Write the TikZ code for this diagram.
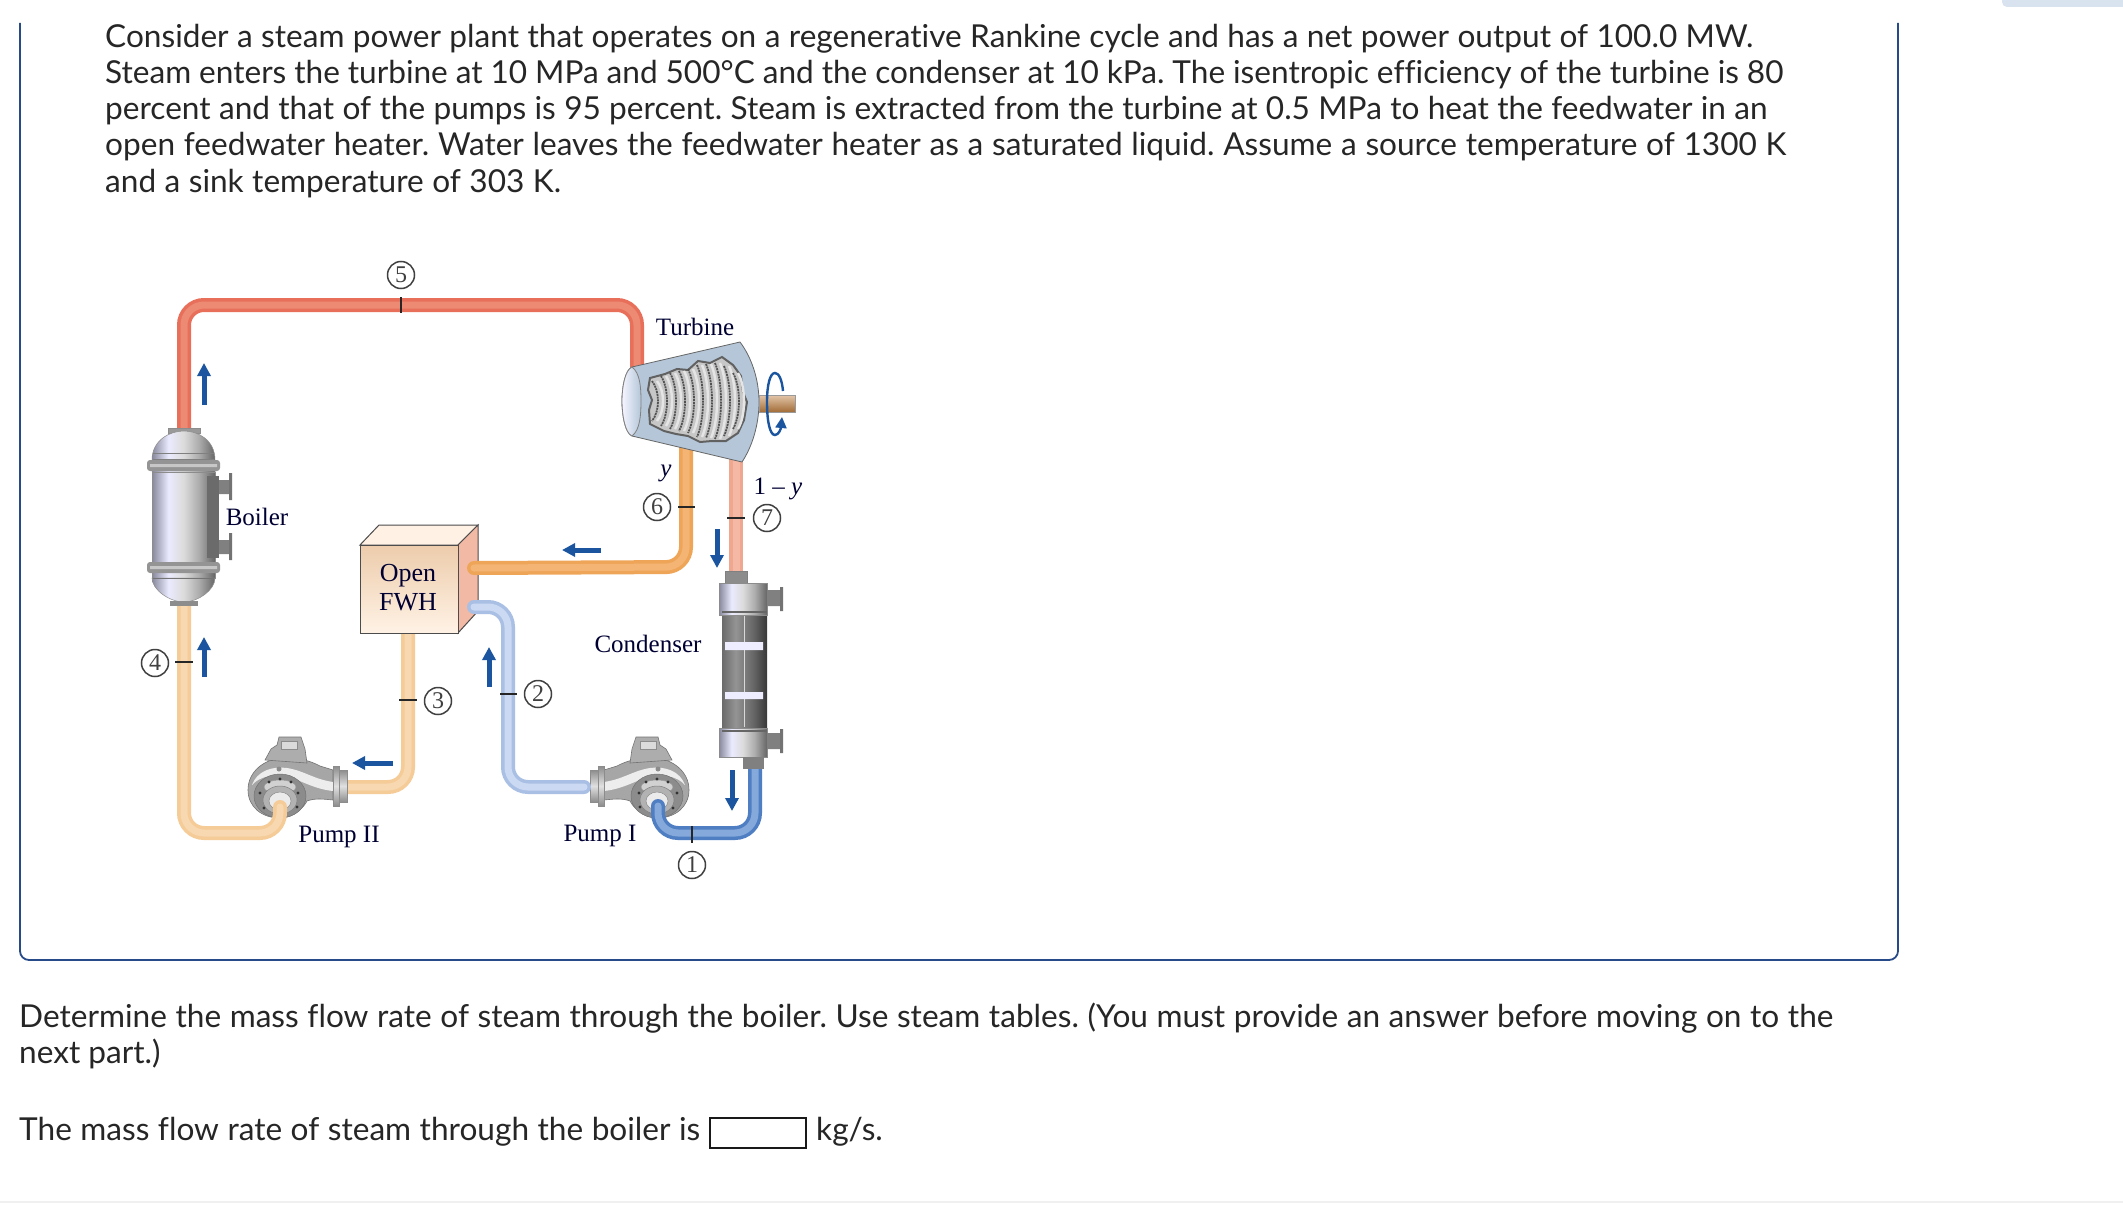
\documentclass[tikz,border=0pt]{standalone}
\usepackage{fontspec}
\setmainfont{Liberation Serif}
\newfontfamily\bodyfont[Ligatures=NoCommon]{Lato}
\usetikzlibrary{arrows.meta}
\pgfdeclarehorizontalshading{metal}{100bp}{color(0bp)=(black!42!white!92!blue); color(25bp)=(black!42!white!92!blue); color(38bp)=(white!92!blue); color(50bp)=(black!14); color(62bp)=(black!32); color(75bp)=(black!60); color(100bp)=(black!60)}
\pgfdeclarehorizontalshading{darkmetal}{100bp}{color(0bp)=(black!62); color(25bp)=(black!58); color(40bp)=(black!42); color(60bp)=(black!60); color(75bp)=(black!78); color(100bp)=(black!78)}
\definecolor{framecol}{HTML}{274A88}
\definecolor{flowblue}{HTML}{1B55A0}
\definecolor{redout}{HTML}{E8705A}\definecolor{redin}{HTML}{EC8A74}
\definecolor{orout}{HTML}{EFA558}\definecolor{orin}{HTML}{F3B474}
\definecolor{salout}{HTML}{EFA78F}\definecolor{salin}{HTML}{F5B8A4}
\definecolor{tanout}{HTML}{F5CB98}\definecolor{tanin}{HTML}{F8D8B0}
\definecolor{lbout}{HTML}{A9BFE4}\definecolor{lbin}{HTML}{CBD9F2}
\definecolor{dbout}{HTML}{4F7FC2}\definecolor{dbin}{HTML}{86A9DC}
\definecolor{turbcol}{HTML}{B4C6D8}
\definecolor{tabcol}{HTML}{D9E3F0}
\newcommand{\fitline}[2]{\makebox[#1pt][s]{\frenchspacing #2}}
\tikzset{
 x=1pt,y=-1pt,
 pipe/.style n args={2}{line width=14pt,draw=#1,rounded corners=20pt,
   postaction={draw=#2,line width=7pt,rounded corners=20pt}},
 tick/.style={draw=black!85,line width=2.2pt},
 flow/.style={draw=flowblue,line width=5pt,-{Triangle[width=13pt,length=13pt]}},
 statenum/.style={draw=black!75,circle,line width=1.5pt,minimum size=27pt,inner sep=0pt,font=\fontsize{24}{24}\selectfont,text=black!75},
 lab/.style={font=\fontsize{25}{25}\selectfont,text=black!80!blue,inner sep=0pt},
 body/.style={anchor=base west,inner sep=0pt,font=\bodyfont\fontsize{31.6}{36}\selectfont,text=black!85},
 metalpart/.style={shading=metal,draw=black!45,line width=0.5pt},
 flangestyle/.style={top color=black!45,bottom color=black!45,middle color=black!12,draw=black!45,line width=.5pt},
 pics/pump/.style={code={
  \filldraw[draw=black!55,line width=.6pt,fill=black!35] (-29,5) .. controls (-29,-14) and (-12,-26) .. (5,-27) .. controls (20,-28) and (34,-24) .. (43,-19) -- (56,-15) -- (56,15) .. controls (46,14) and (38,13) .. (30,16) .. controls (26,24) and (15,33) .. (3,33) .. controls (-15,33) and (-29,22) .. (-29,5) -- cycle;
  \filldraw[draw=black!55,fill=black!32,line width=.6pt] (-12,-25) -- (-6,-36) -- (0,-40) -- (2,-48) -- (24,-48) -- (28,-36) -- (30,-22) -- cycle;
  \filldraw[draw=black!45,fill=black!14,line width=.4pt] (4,-44) rectangle (20,-36);
  \fill[black!7] (-25,0) .. controls (-20,-14) and (-5,-19) .. (10,-17) .. controls (28,-14) and (36,-6) .. (56,-3) -- (56,6) .. controls (36,4) and (22,-6) .. (8,-9) .. controls (-5,-11) and (-18,-8) .. (-25,0) -- cycle;
  \filldraw[draw=black!55,fill=black!45,line width=.5pt] (3,11) circle[x radius=26,y radius=22];
  \filldraw[draw=black!40,fill=black!18,line width=.5pt] (3,2) circle[x radius=16,y radius=7];
  \filldraw[draw=black!50,fill=black!30,line width=.5pt] (3,15) circle[x radius=17,y radius=14];
  \filldraw[draw=black!45,fill=black!8,line width=.5pt] (3,16) circle[x radius=11,y radius=9];
  \foreach \bx/\by in {-8/-3,3/-6,14/-3,-17/8,-13/23,21/8,20/22}{\fill[black!80] (\bx,\by) circle[radius=1.7];}
  \fill[black!45] (2,-16) circle[radius=2.5];
  \shade[flangestyle] (56,-19) rectangle (62,21);
  \shade[flangestyle] (62,-15) rectangle (70,17);
 }}
}
\begin{document}
\begin{tikzpicture}
\useasboundingbox (0,0) rectangle (2123,1212);
\fill[white] (0,0) rectangle (2123,1212);
\fill[tabcol,rounded corners=5pt] (2002,-10) rectangle (2133,7);
\draw[black!6,line width=2pt] (0,1202) -- (2123,1202);
% frame
\draw[framecol,line width=1.8pt,rounded corners=9pt] (20,23) -- (20,960) -- (1898,960) -- (1898,23);
% problem text
\node[body] (t1) at (105,48) {\fitline{1648}{Consider a steam power plant that operates on a regenerative Rankine cycle and has a net power output of 100.0 MW.}};
\node[body] (t2) at (105,84) {\fitline{1678}{Steam enters the turbine at 10 MPa and 500°C and the condenser at 10 kPa. The isentropic efficiency of the turbine is 80}};
\node[body] (t3) at (105,120) {\fitline{1662}{percent and that of the pumps is 95 percent. Steam is extracted from the turbine at 0.5 MPa to heat the feedwater in an}};
\node[body] (t4) at (105,156) {\fitline{1681}{open feedwater heater. Water leaves the feedwater heater as a saturated liquid. Assume a source temperature of 1300 K}};
\node[body] (t5) at (105,192) {\fitline{456}{and a sink temperature of 303 K.}};
\node[body] (q1) at (19,1027) {\fitline{1814}{Determine the mass flow rate of steam through the boiler. Use steam tables. (You must provide an answer before moving on to the}};
\node[body] (q2) at (19,1063) {\makebox[139pt][l]{next part.)}};
\node[body] (q3) at (19,1140) {\fitline{681}{The mass flow rate of steam through the boiler is}};
\node[draw=black!90,line width=1.5pt,minimum width=96pt,minimum height=30pt,inner sep=0pt] (answer) at (758,1133) {};
\node[body] (q4) at (816,1140) {kg/s.};
% coordinates
\coordinate (boilertop) at (184,430);
\coordinate (boilerbot) at (184,603);
\coordinate (turbin) at (637,372);
\coordinate (turbext) at (686,445);
\coordinate (turbout) at (736,455);
\coordinate (fwhoutA) at (474,568);
\coordinate (fwhoutB) at (474,607);
\coordinate (fwhbot) at (408,630);
\coordinate (condtop) at (736,575);
\coordinate (condbot) at (755,762);
\coordinate (p1in) at (658,806);
\coordinate (p1out) at (584,787);
\coordinate (p2in) at (280,807);
\coordinate (p2out) at (340,787);
% pipes
\draw[pipe={redout}{redin}] (boilertop) -- (184,305) -- (637,305) -- (turbin);
\draw[pipe={salout}{salin}] (turbout) -- (condtop);
\draw[pipe={tanout}{tanin}] (fwhbot) -- (408,787) -- (p2out);
% pumps
\pic[xscale=1] at (277,785) {pump};
\pic[xscale=-1] at (660,785) {pump};
\draw[pipe={tanout}{tanin},line cap=round] (boilerbot) -- (184,833) -- (280,833) -- (p2in);
\draw[pipe={dbout}{dbin},line cap=round] (condbot) -- (755,833) -- (658,833) -- (p1in);
% boiler
\begin{scope}
\filldraw[draw=black!45,line width=.4pt,fill=black!40] (168,428) rectangle (200,433);
\shade[metalpart] (152,472) -- (152,460) .. controls (152,440) and (170,431) .. (184,431) .. controls (198,431) and (215,440) .. (215,460) -- (215,472) -- cycle;
\shade[metalpart] (152,560) rectangle (215,578);
\shade[metalpart] (152,578) -- (215,578) .. controls (215,590) and (198,602) .. (184,602) .. controls (170,602) and (152,590) .. (152,578) -- cycle;
\shade[metalpart] (152,472) rectangle (215,562);
\fill[black!45] (170,601) rectangle (198,606);
\fill[black!42,rounded corners=3pt] (147,460) rectangle (220,471);
\fill[black!42,rounded corners=3pt] (147,562) rectangle (220,573);
\fill[black!22] (150,464) rectangle (217,467) (150,566) rectangle (217,569);
\draw[black!50,line width=1pt] (153,453) -- (214,453) (153,459) -- (214,459);
\draw[black!55,line width=1pt] (153,578) -- (214,578);
\fill[black!58] (207,476) rectangle (219,558);
\fill[black!50] (219,480) rectangle (229,494) (219,540) rectangle (229,554);
\fill[black!55] (229,473) rectangle (232,500) (229,533) rectangle (232,560);
\end{scope}
\node[lab] (boiler) at (257,517) {Boiler};
% FWH
\filldraw[draw=black!70,line width=1pt,fill=orange!10!white] (360,545) -- (379,525) -- (478,525) -- (458,545) -- cycle;
\filldraw[draw=black!70,line width=1pt,fill=salout!80!white] (458,545) -- (478,525) -- (478,611) -- (458,633) -- cycle;
\shade[top color=orange!28!brown!40!white,bottom color=orange!10!white,draw=black!70,line width=1pt] (360,545) rectangle (458,633);
\node[font=\fontsize{26}{29}\selectfont,text=black!80!blue,align=center,inner sep=0pt] (fwh) at (408,588) {Open\\FWH};
\draw[pipe={orout}{orin},line cap=round] (turbext) -- (686,567) -- (fwhoutA);
\draw[pipe={lbout}{lbin},line cap=round] (fwhoutB) -- (508,607) -- (508,787) -- (p1out);
% turbine
\filldraw[draw=black!60,line width=.8pt,fill=turbcol] (632,367) -- (740,342) .. controls (752,358) and (759,380) .. (759,402) .. controls (759,425) and (752,447) .. (742,462) -- (632,436) .. controls (625,433) and (622,415) .. (622,401) .. controls (622,387) and (625,370) .. (632,367) -- cycle;
\shade[left color=blue!4!white,right color=turbcol,draw=black!50,line width=.8pt] (632,367) .. controls (625,370) and (622,387) .. (622,401) .. controls (622,415) and (625,433) .. (632,436) .. controls (640,430) and (641,415) .. (641,401) .. controls (641,387) and (640,373) .. (632,367) -- cycle;
\filldraw[draw=black!62,line width=2pt,fill=black!22] (650,378) -- (665,374) -- (677,369) -- (688,370) -- (698,361) -- (710,363) -- (722,357) -- (733,365) -- (741,376) -- (743,392) -- (747,402) -- (744,420) -- (738,433) -- (726,441) -- (712,441) -- (700,442) -- (688,436) -- (676,434) -- (664,431) -- (650,424) -- (649,410) -- (652,400) -- (648,390) -- cycle;
\foreach \bx/\bh in {652/20,661/25,670/28,679/30,688/32,697/36,706/37,715/38,724/35,733/28}{
 \draw[white!90!black,line width=2.4pt] (\bx+5,401-\bh) .. controls (\bx+13,401-\bh/2) and (\bx+13,401+\bh/2) .. (\bx+5,401+\bh);
 \draw[black!68,line width=1.8pt,dash pattern=on 2pt off .8pt] (\bx,401-\bh) .. controls (\bx+8,401-\bh/2) and (\bx+8,401+\bh/2) .. (\bx,401+\bh);
}
\shade[top color=brown!45!white,bottom color=brown!85!black,draw=black!40,line width=.4pt] (759,395) rectangle (795,412);
\draw[flowblue,line width=2.4pt,-{Triangle[width=11pt,length=11pt]}] (783,391) .. controls (782,380) and (779,373) .. (775,373) .. controls (770,373) and (767,385) .. (767,402) .. controls (767,422) and (770,435) .. (775,435) .. controls (779,435) and (781,428) .. (782,417);
\node[lab] (turbine) at (695,327) {Turbine};
% condenser
\filldraw[draw=black!50,line width=.5pt,fill=black!45] (725,571) rectangle (747,583);
\shade[shading=darkmetal] (722,615) rectangle (767,727);
\draw[white!85!black,line width=1pt] (744,615) -- (744,727);
\fill[white!93!blue] (725,642) rectangle (763,650) (725,692) rectangle (763,699);
\shade[metalpart] (719,583) rectangle (767,615);
\shade[metalpart] (719,728) rectangle (767,757);
\draw[black!60,line width=2pt] (722,612) -- (767,612) (722,731) -- (767,731);
\fill[black!50] (767,590) rectangle (780,606) (767,733) rectangle (780,749);
\fill[black!55] (780,587) rectangle (783,611) (780,729) rectangle (783,753);
\filldraw[draw=black!50,line width=.5pt,fill=black!50] (743,757) rectangle (763,768);
\node[lab] (condenser) at (648,644) {Condenser};
% labels
\node[lab] (pump1) at (600,836) {Pump I};
\node[lab] (pump2) at (339,837) {Pump II};
\node[lab,font=\itshape\fontsize{25}{25}\selectfont] (yl) at (666,473) {y};
\node[lab] (oneminus) at (778,489) {1 -- \itshape y};
% state circles + ticks
\node[statenum] (s1) at (692,865) {1};
\node[statenum] (s2) at (538,694) {2};
\node[statenum] (s3) at (438,701) {3};
\node[statenum] (s4) at (155,663) {4};
\node[statenum] (s5) at (401,275) {5};
\node[statenum] (s6) at (657,507) {6};
\node[statenum] (s7) at (767,518) {7};
\draw[tick] (692,826) -- (692,843);
\draw[tick] (500,694) -- (517,694);
\draw[tick] (399,700) -- (417,700);
\draw[tick] (175,662) -- (193,662);
\draw[tick] (401,297) -- (401,313);
\draw[tick] (678,507) -- (695,507);
\draw[tick] (727,518) -- (745,518);
% flow arrows
\draw[flow] (204,405) -- (204,363);
\draw[flow] (204,677) -- (204,637);
\draw[flow] (393,763) -- (352,763);
\draw[flow] (489,687) -- (489,647);
\draw[flow] (601,550) -- (562,550);
\draw[flow] (717,529) -- (717,568);
\draw[flow] (732,770) -- (732,811);
\end{tikzpicture}
\end{document}
